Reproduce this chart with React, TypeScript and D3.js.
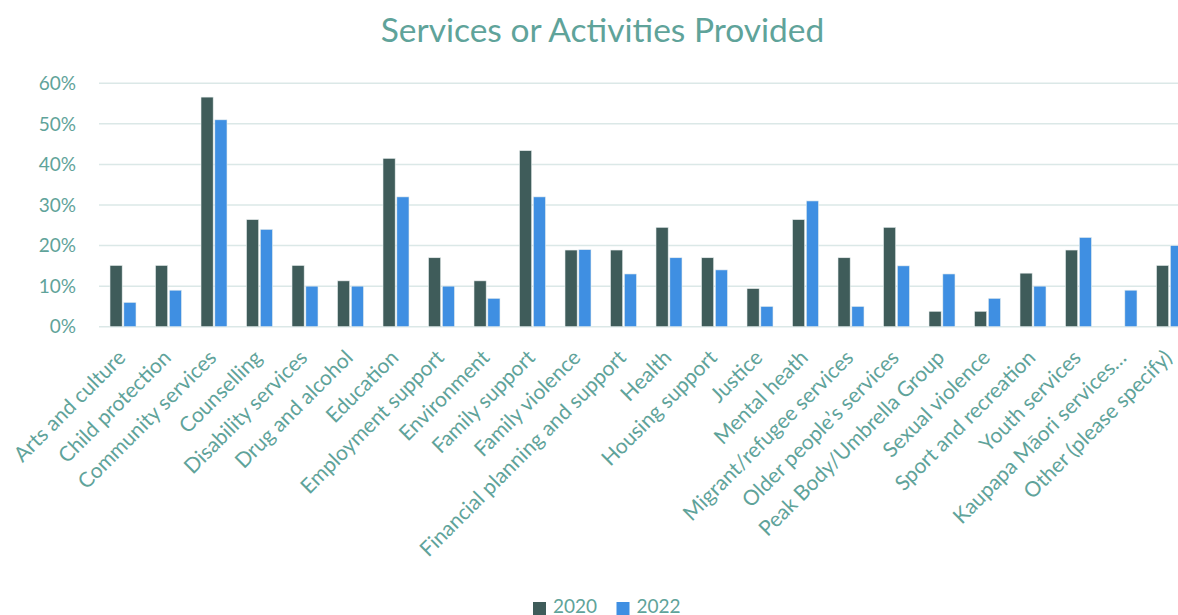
import React from "react";
import * as d3 from "d3";

const categories = [
  "Arts and culture",
  "Child protection",
  "Community services",
  "Counselling",
  "Disability services",
  "Drug and alcohol",
  "Education",
  "Employment support",
  "Environment",
  "Family support",
  "Family violence",
  "Financial planning and support",
  "Health",
  "Housing support",
  "Justice",
  "Mental heath",
  "Migrant/refugee services",
  "Older people\u2019s services",
  "Peak Body/Umbrella Group",
  "Sexual violence",
  "Sport and recreation",
  "Youth services",
  "Kaupapa M\u0101ori services\u2026",
  "Other (please specify)",
];

const values2020 = [
  15.1, 15.1, 56.6, 26.4, 15.1, 11.3, 41.5, 17.0, 11.3, 43.4, 18.9, 18.9, 24.5,
  17.0, 9.4, 26.4, 17.0, 24.5, 3.8, 3.8, 13.2, 18.9, 0, 15.1,
];

const values2022 = [
  6, 9, 51, 24, 10, 10, 32, 10, 7, 32, 19, 13, 17, 14, 5, 31, 5, 15, 13, 7, 10,
  22, 9, 20,
];

const seriesNames = ["2020", "2022"];
const yTicks = [0, 10, 20, 30, 40, 50, 60];

const W = 1178;
const H = 615;
const FONT = "Lato, 'Open Sans', sans-serif";
const TEXT = "#5fa39a";
const COLORS = ["#3f5c5a", "#3f8fe2"];

export default function App() {
  const x = d3
    .scaleBand<string>()
    .domain(categories)
    .range([99, 99 + 45.5 * categories.length])
    .paddingInner(0)
    .paddingOuter(0);
  const y = d3.scaleLinear().domain([0, 60]).range([326.7, 83.3]);
  const inner = d3
    .scaleBand<string>()
    .domain(seriesNames)
    .range([11, 37])
    .paddingInner(0.12);

  const series = [values2020, values2022];

  return (
    <svg
      width={W}
      height={H}
      style={{ position: "absolute", left: 0, top: 0, background: "#fff" }}
      fontFamily={FONT}
    >
      <text
        x={602.5}
        y={42}
        textAnchor="middle"
        fontSize={33.5}
        fill={TEXT}
      >
        Services or Activities Provided
      </text>

      {yTicks.map((t) => (
        <g key={t}>
          <line
            x1={99}
            x2={W}
            y1={y(t)}
            y2={y(t)}
            stroke="#dbe8e7"
            strokeWidth={1.5}
          />
          <text
            x={76}
            y={y(t)}
            dy="0.35em"
            textAnchor="end"
            fontSize={19}
            fill={TEXT}
          >
            {t}%
          </text>
        </g>
      ))}

      {series.map((vals, si) =>
        vals.map((v, i) =>
          v > 0 ? (
            <rect
              key={`${si}-${i}`}
              x={(x(categories[i]) as number) + (inner(seriesNames[si]) as number)}
              y={y(v)}
              width={inner.bandwidth()}
              height={y(0) - y(v)}
              fill={COLORS[si]}
              stroke="#e8eeee"
              strokeWidth={0.6}
            />
          ) : null
        )
      )}

      {categories.map((c) => {
        const cx = (x(c) as number) + x.bandwidth() / 2;
        return (
          <text
            key={c}
            transform={`translate(${cx + 5},${359}) rotate(-45)`}
            textAnchor="end"
            fontSize={21}
            fill={TEXT}
          >
            {c}
          </text>
        );
      })}

      {seriesNames.map((s, i) => (
        <g key={s} transform={`translate(${533 + i * 83.5},0)`}>
          <rect x={0} y={602} width={13} height={13} fill={COLORS[i]} />
          <text x={20} y={612.5} fontSize={19} fill={TEXT}>
            {s}
          </text>
        </g>
      ))}
    </svg>
  );
}
